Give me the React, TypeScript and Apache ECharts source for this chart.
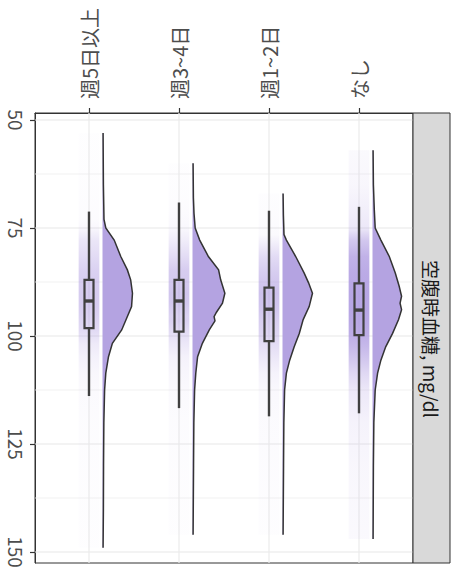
import React, { useEffect, useRef } from 'react';
import * as echarts from 'echarts';

// ---------- data ----------
const categories = ['週5日以上', '週3~4日', '週1~2日', 'なし'];
const categoryPos = [1, 2, 3, 4];
const yTicks = [50, 75, 100, 125, 150];
const yMinorGrid = [62.5, 87.5, 112.5, 137.5];
const facetLabel = '空腹時血糖, mg/dl';

// box stats: [whiskerLow, q1, median, q3, whiskerHigh]
const box5plus = [71.2, 87.0, 91.9, 98.2, 113.9];
const box3to4 = [69.1, 87.0, 91.9, 99.0, 116.7];
const box1to2 = [71.0, 88.8, 93.8, 101.2, 118.6];
const boxNone = [70.1, 87.8, 94.0, 99.8, 117.9];

// half-violin densities: [value, relative density]
const dens5plus = [
  [53, 0.02], [65, 0.03], [73, 0.05], [75, 0.11], [77.8, 0.39], [81.6, 0.61],
  [84.7, 0.83], [87, 0.94], [90.1, 1.0], [93.2, 0.97], [95.5, 0.83], [98.6, 0.64],
  [101.7, 0.33], [104.8, 0.2], [108.6, 0.11], [112.5, 0.07], [120, 0.045],
  [130, 0.035], [140, 0.03], [149, 0.02],
];
const dens3to4 = [
  [60, 0.02], [68, 0.03], [71.6, 0.05], [75, 0.09], [77.8, 0.24], [81.6, 0.53],
  [84.7, 0.87], [87, 0.94], [90.1, 1.08], [92.4, 1.0], [94.5, 0.8], [95.5, 0.72],
  [96.5, 0.75], [98.6, 0.56], [101.7, 0.33], [104.8, 0.17], [108.6, 0.11],
  [112.5, 0.07], [120, 0.045], [130, 0.035], [146, 0.02],
];
const dens1to2 = [
  [67, 0.02], [72, 0.03], [76.5, 0.05], [77.8, 0.13], [81.6, 0.44], [85.4, 0.72],
  [87.7, 0.87], [90.1, 1.0], [93.2, 0.89], [96.2, 0.69], [99.4, 0.56], [102.5, 0.39],
  [105.6, 0.24], [108.6, 0.13], [112.5, 0.07], [120, 0.045], [130, 0.035], [146, 0.02],
];
const densNone = [
  [57, 0.02], [65, 0.03], [70.8, 0.06], [75, 0.09], [77.8, 0.28], [81.6, 0.56],
  [85.4, 0.76], [88.5, 0.89], [90.8, 0.97], [92.4, 0.92], [93.9, 0.97], [96.2, 0.87],
  [99.4, 0.67], [102.5, 0.44], [105.6, 0.28], [108.6, 0.17], [112.5, 0.09],
  [120, 0.045], [130, 0.03], [147, 0.02],
];

// relative amount of jittered raw points per group (overlap build-up)
const pointIntensity = [0.8, 0.9, 1.1, 3.2];

const boxes = [box5plus, box3to4, box1to2, boxNone];
const densities = [dens5plus, dens3to4, dens1to2, densNone];

const FONT = '"Noto Sans CJK JP", "Noto Sans", sans-serif';

export default function App() {
  const ref = useRef<HTMLDivElement>(null);
  useEffect(() => {
    if (!ref.current) return;
    const chart = echarts.init(ref.current, null, { renderer: 'svg' });

    const gridData: number[][] = [];
    yTicks.forEach((v) => gridData.push([2.5, v, 0]));
    yMinorGrid.forEach((v) => gridData.push([2.5, v, 1]));
    categoryPos.forEach((p) => gridData.push([p, 100, 2]));

    const option: any = {
      animation: false,
      backgroundColor: '#ffffff',
      grid: {
        left: 35, top: 113, right: 41, bottom: 15,
        show: true, backgroundColor: '#ffffff', borderColor: '#333333', borderWidth: 1,
        containLabel: false, outerBoundsMode: 'none',
      },
      xAxis: {
        type: 'value', min: 0.4, max: 4.6, position: 'top',
        axisLine: { show: true, lineStyle: { color: '#333333', width: 1 } },
        axisTick: { show: true, customValues: categoryPos, length: 5, lineStyle: { color: '#333333', width: 1.2 } },
        axisLabel: {
          show: true, customValues: categoryPos, rotate: -90, margin: 14,
          formatter: (v: number) => categories[Math.round(v) - 1] ?? '',
          color: '#4D4D4D', fontSize: 20, fontFamily: FONT,
        },
        splitLine: { show: false },
      },
      yAxis: {
        type: 'value', inverse: true, min: 48.38, max: 152.55,
        axisLine: { show: true, lineStyle: { color: '#333333', width: 1 } },
        axisTick: { show: true, customValues: yTicks, length: 5, lineStyle: { color: '#333333', width: 1.2 } },
        axisLabel: {
          show: true, customValues: yTicks, rotate: -90, margin: 9,
          color: '#4D4D4D', fontSize: 19, fontFamily: FONT,
        },
        splitLine: { show: false },
      },
      graphic: [
        {
          type: 'rect', shape: { x: 413, y: 113, width: 37, height: 450 },
          style: { fill: '#D9D9D9', stroke: '#333333', lineWidth: 1 }, z: 10,
        },
        {
          type: 'text', x: 431.5, y: 339, rotation: -Math.PI / 2, z: 11,
          style: {
            text: facetLabel, fill: '#1A1A1A', fontSize: 19, fontFamily: FONT,
            textAlign: 'center', textVerticalAlign: 'middle',
          },
        },
      ],
      series: [
        {
          type: 'custom', z: 1, silent: true,
          data: gridData,
          renderItem: (params: any, api: any) => {
            const kind = api.value(2);
            const cs = params.coordSys;
            if (kind === 2) {
              const p = api.coord([api.value(0), 100]);
              return {
                type: 'line',
                shape: { x1: p[0], y1: cs.y, x2: p[0], y2: cs.y + cs.height },
                style: { stroke: '#EBEBEB', lineWidth: 1.2 },
              };
            }
            const p = api.coord([2.5, api.value(1)]);
            return {
              type: 'line',
              shape: { x1: cs.x, y1: p[1], x2: cs.x + cs.width, y2: p[1] },
              style: { stroke: kind === 0 ? '#E8E8E8' : '#EFEFEF', lineWidth: kind === 0 ? 1.2 : 0.8 },
            };
          },
        },
        {
          type: 'custom', z: 2, silent: true,
          data: categoryPos.map((p, i) => [p, boxes[i][2]]),
          renderItem: (params: any, api: any) => {
            const i = params.dataIndex;
            const xc = api.value(0);
            const dens = densities[i];
            const st = boxes[i];
            const base = xc + 0.15;
            const scale = 0.333;
            const lo = dens[0][0];
            const hi = dens[dens.length - 1][0];

            // jittered points cloud (density-shaded band)
            const pA = api.coord([xc - 0.115, lo]);
            const pB = api.coord([xc + 0.115, hi]);
            const stops = dens.map(([v, d]) => ({
              offset: (v - lo) / (hi - lo),
              color: `rgba(172,152,224,${(0.9 * (1 - Math.exp(-pointIntensity[i] * d))).toFixed(3)})`,
            }));
            const band = {
              type: 'rect',
              shape: { x: pA[0], y: Math.min(pA[1], pB[1]), width: pB[0] - pA[0], height: Math.abs(pB[1] - pA[1]) },
              style: { fill: new echarts.graphic.LinearGradient(0, 0, 0, 1, stops) },
            };

            const curve = dens.map(([v, d]) => api.coord([base + d * scale, v]));
            const basePts = dens.slice().reverse().map(([v]) => api.coord([base, v]));
            const fill = {
              type: 'polygon',
              shape: { points: curve.concat(basePts) },
              style: { fill: '#B4A3E1', stroke: 'none' },
            };
            const outline = {
              type: 'polyline',
              shape: { points: curve },
              style: { stroke: '#333333', lineWidth: 1.5, fill: 'none' },
            };

            const hw = 0.05;
            const b1 = api.coord([xc - hw, st[1]]);
            const b2 = api.coord([xc + hw, st[3]]);
            const m1 = api.coord([xc - hw, st[2]]);
            const m2 = api.coord([xc + hw, st[2]]);
            const wl = api.coord([xc, st[0]]);
            const q1 = api.coord([xc, st[1]]);
            const q3 = api.coord([xc, st[3]]);
            const wh = api.coord([xc, st[4]]);
            const boxColor = '#404040';
            const boxEls = [
              { type: 'line', shape: { x1: wl[0], y1: wl[1], x2: q1[0], y2: q1[1] }, style: { stroke: boxColor, lineWidth: 2.4 } },
              { type: 'line', shape: { x1: q3[0], y1: q3[1], x2: wh[0], y2: wh[1] }, style: { stroke: boxColor, lineWidth: 2.4 } },
              {
                type: 'rect',
                shape: { x: b1[0], y: Math.min(b1[1], b2[1]), width: b2[0] - b1[0], height: Math.abs(b2[1] - b1[1]) },
                style: { fill: 'none', stroke: boxColor, lineWidth: 2.2 },
              },
              { type: 'line', shape: { x1: m1[0], y1: m1[1], x2: m2[0], y2: m2[1] }, style: { stroke: boxColor, lineWidth: 3.4 } },
            ];

            return { type: 'group', children: [band, fill, outline, ...boxEls] };
          },
        },
      ],
    };
    chart.setOption(option);
    return () => chart.dispose();
  }, []);

  return (
    <div
      ref={ref}
      style={{ position: 'fixed', left: 0, top: 0, width: 454, height: 578, background: '#fff' }}
    />
  );
}
